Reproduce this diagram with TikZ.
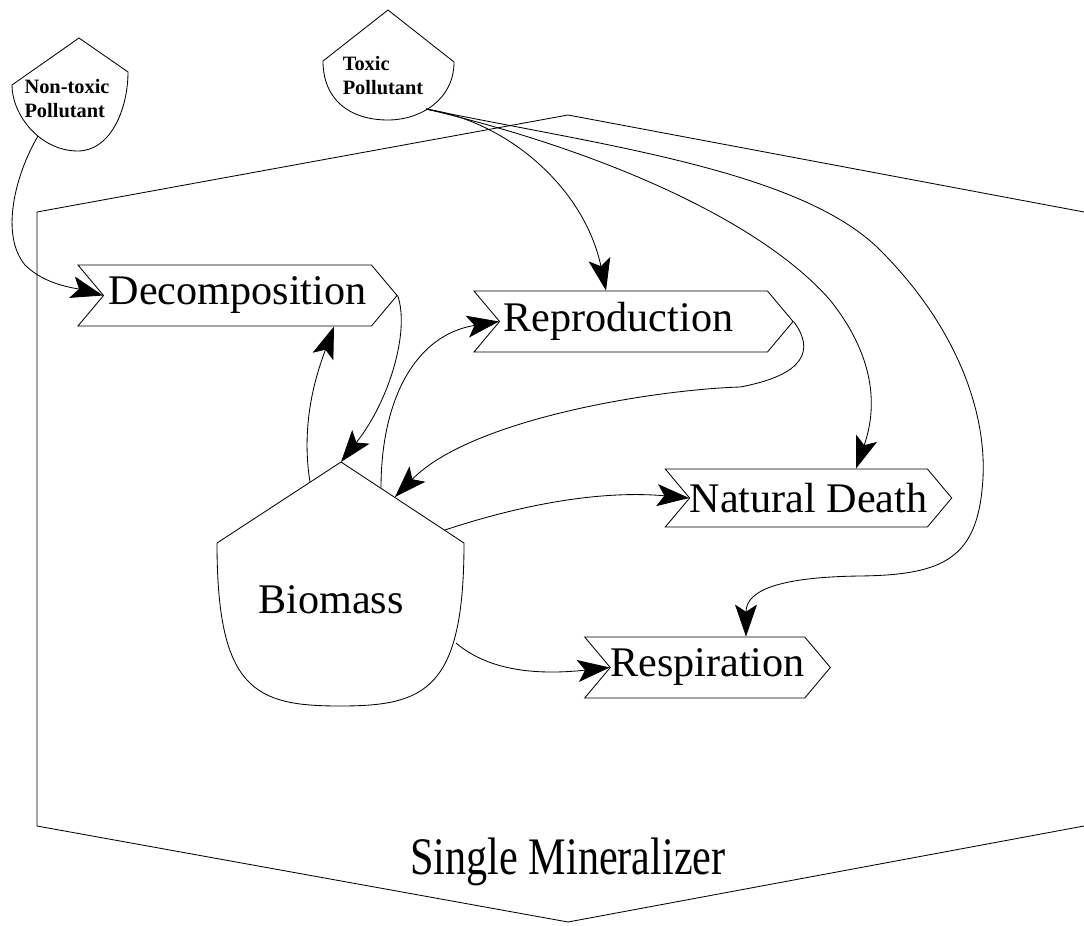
\documentclass[tikz,border=0pt]{standalone}
\usepackage{fontspec}
\setmainfont{Liberation Serif}
\usetikzlibrary{shapes.symbols, arrows.meta, calc}

\begin{document}
\begin{tikzpicture}[
    x=0.025cm, y=-0.025cm,
    every node/.style={font=\fontsize{30}{36}\selectfont},
    proc/.style={signal, draw, signal from=west, signal to=east, signal pointer angle=100, minimum height=1.525cm, inner sep=0pt, line width=0.6pt},
    tank/.style={draw, line width=0.6pt},
    small/.style={font=\fontsize{14.5}{17}\selectfont\bfseries, align=left, inner sep=0pt},
    arr/.style={-{Stealth[length=0.8cm, width=0.55cm, inset=0.18cm]}, line width=0.6pt}
]
\useasboundingbox (0,0) rectangle (1084,926);

% mineralizer boundary
\draw[tank] (1084,212) -- (568,115) -- (37,212) -- (37,826) -- (568,922) -- (1084,826);
\node (minlabel) at (568,862) {\scalebox{1}[1.25]{Single Mineralizer}};

% pollutant inputs
\draw[tank] (12,85) -- (79,38) -- (128,72) .. controls (128,110) and (110,151) .. (78,151) .. controls (40,151) and (12,115) .. cycle;
\node[small] (nontox) at (67,99) {Non-toxic\\Pollutant};
\draw[tank] (323,61) -- (388,10) -- (454,62) .. controls (454,100) and (420,120) .. (388,120) .. controls (350,120) and (323,100) .. cycle;
\node[small] (tox) at (383,76) {Toxic\\Pollutant};

% biomass stock
\draw[tank] (217,543) -- (341,462) -- (464,543) .. controls (464,690) and (425,706) .. (340,706) .. controls (255,706) and (217,690) .. cycle;
\node (biomass) at (331,600) {Biomass};

\coordinate (nt-out) at (38,136);
\coordinate (tx-out) at (426,109);
\coordinate (bio-top) at (341,462);
\coordinate (bio-l) at (310,482);
\coordinate (bio-r1) at (381,488);
\coordinate (bio-r2) at (395,497);
\coordinate (bio-r3) at (445,530);
\coordinate (bio-r4) at (456,643);

% processes
\node[proc, minimum width=7.975cm] (decomp) at (237.5,295.5) {Decomposition};
\node[proc, minimum width=7.975cm] (repro)  at (633.5,321.5) {Reproduction\hspace*{0.75cm}};
\node[proc, minimum width=7.125cm, minimum height=1.45cm] (death) at (808.5,498) {Natural Death};
\node[proc, minimum width=6.025cm] (resp)   at (707.5,667.5) {Respiration};

% flows
\draw[arr] (nt-out) .. controls (15,175) and (0,235) .. (25,265) .. controls (45,285) and (75,288) .. (decomp.west);
\draw[arr] (tx-out) .. controls (510,122) and (585,190) .. ($(repro.north)+(-27.5,0)$);
\draw[arr] (tx-out) .. controls (600,150) and (760,220) .. (830,300) .. controls (870,350) and (880,400) .. ($(death.north)+(47.5,0)$);
\draw[arr] (tx-out) .. controls (600,145) and (800,170) .. (880,250) .. controls (960,330) and (990,420) .. (982,490) .. controls (975,560) and (940,575) .. (860,576) .. controls (780,577) and (746,590) .. ($(resp.north)+(38.5,0)$);
\draw[arr] (bio-l) .. controls (300,420) and (318,370) .. ($(decomp.south)+(96.5,0)$);
\draw[arr] (decomp.east) .. controls (410,330) and (390,400) .. (bio-top);
\draw[arr] (bio-r1) .. controls (381,400) and (415,335) .. (repro.west);
\draw[arr] (repro.east) .. controls (815,350) and (805,375) .. (740,387) .. controls (650,390) and (470,420) .. (bio-r2);
\draw[arr] (bio-r3) .. controls (520,505) and (600,490) .. (death.west);
\draw[arr] (bio-r4) .. controls (490,672) and (540,675) .. (resp.west);
\end{tikzpicture}
\end{document}
